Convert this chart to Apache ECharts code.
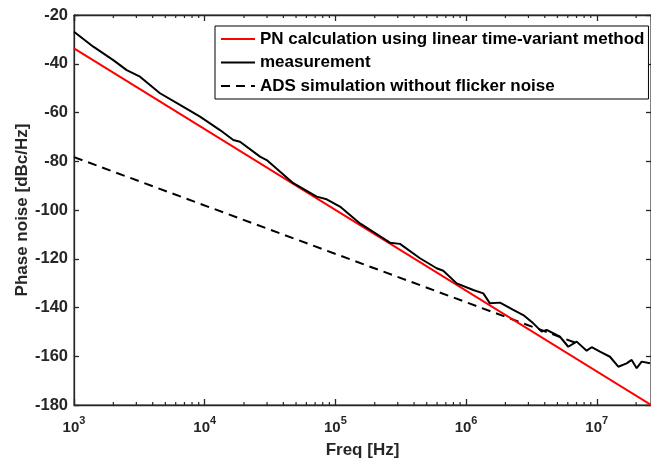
<!DOCTYPE html>
<html>
<head>
<meta charset="utf-8">
<script src="https://cdn.jsdelivr.net/npm/echarts@6/dist/echarts.min.js"></script>
<style>html,body{margin:0;padding:0;background:#fff;}#c{width:651px;height:466px;}</style>
</head>
<body>
<div id="c"></div>
<script>
// ---- data ----
const yTicks = [-180, -160, -140, -120, -100, -80, -60, -40, -20];
const xMajorTicks = [1e3, 1e4, 1e5, 1e6, 1e7];
const xMinorTicks = [2e3,3e3,4e3,5e3,6e3,7e3,8e3,9e3,
  2e4,3e4,4e4,5e4,6e4,7e4,8e4,9e4,
  2e5,3e5,4e5,5e5,6e5,7e5,8e5,9e5,
  2e6,3e6,4e6,5e6,6e6,7e6,8e6,9e6,
  2e7];
const pnCalcFreq = [1e3, 2.6e7];
const pnCalcVal = [-33.7, -180];
const adsFreq = [1e3, 7e6];
const adsVal = [-78.3, -154.6];
const measFreq = [1000,1405,1998,2531,3199,4550,6471,9205,13095,16553,18630,26500,29820,47640,71930,85800,
  108400,154300,232500,261600,312100,443900,595700,669100,847800,1.135e6,1.354e6,1.523e6,1.817e6,2.297e6,
  2.739e6,3.268e6,3.788e6,4.137e6,5.229e6,6.053e6,7.018e6,8.370e6,9.142e6,1.058e7,1.262e7,1.461e7,1.693e7,
  1.849e7,2.020e7,2.206e7,2.553e7];
const measVal = [-26.9,-33.0,-38.5,-42.6,-45.3,-52.1,-56.9,-61.7,-67.2,-71.3,-72.0,-78.1,-79.5,-89.0,-94.5,-95.6,
  -98.6,-105.5,-111.6,-113.4,-113.9,-119.8,-123.9,-124.9,-130.1,-132.8,-134.2,-138.3,-138.0,-141.0,
  -143.1,-146.5,-149.9,-149.2,-152.0,-156.1,-154.0,-157.7,-156.3,-158.1,-160.2,-164.3,-162.9,
  -161.5,-164.9,-162.2,-162.9];
const names = ['PN calculation using linear time-variant method', 'measurement', 'ADS simulation without flicker noise'];
const xMin = 1e3, xMax = 2.6e7, yMin = -180, yMax = -20;

const zip = (a, b) => a.map((v, i) => [v, b[i]]);
const FONT = "'Liberation Sans', Arial, sans-serif";
const AX = '#262626';
const isMajor = v => xMajorTicks.some(m => Math.abs(v - m) / m < 1e-6);

const chart = echarts.init(document.getElementById('c'), null, {renderer: 'canvas'});
chart.setOption({
  animation: false,
  backgroundColor: '#fff',
  textStyle: {fontFamily: FONT},
  grid: {left: 74, right: 0, top: 15, bottom: 61, containLabel: false, outerBoundsMode: 'none',
    show: true, borderColor: AX, borderWidth: 1, backgroundColor: 'transparent'},
  legend: {
    data: names,
    orient: 'vertical',
    left: 215, top: 26,
    padding: [3, 4, 3, 5],
    itemWidth: 34, itemHeight: 14, itemGap: 3.5,
    backgroundColor: '#fff',
    borderColor: '#000', borderWidth: 1,
    itemStyle: {opacity: 0},
    textStyle: {fontFamily: FONT, fontSize: 17, fontWeight: 'bold', color: '#000', lineHeight: 20},
    selectedMode: false
  },
  xAxis: [{
    type: 'log', logBase: 10, min: xMin, max: xMax, position: 'bottom',
    name: 'Freq [Hz]', nameLocation: 'middle', nameGap: 37, nameMoveOverlap: false,
    nameTextStyle: {fontFamily: FONT, fontSize: 17, fontWeight: 'bold', color: AX},
    axisLine: {lineStyle: {color: AX, width: 1.3}},
    axisTick: {inside: true, length: 6, lineStyle: {color: AX, width: 1.3}},
    minorTick: {show: false},
    splitLine: {show: false},
    axisLabel: {
      margin: 8, showMaxLabel: false,
      formatter: v => isMajor(v) ? '{b|10}{s|' + Math.round(Math.log10(v)) + '}' : '',
      rich: {
        b: {fontFamily: FONT, fontSize: 15, fontWeight: 'bold', color: AX, lineHeight: 22, verticalAlign: 'bottom'},
        s: {fontFamily: FONT, fontSize: 11, fontWeight: 'bold', color: AX, lineHeight: 22, padding: [0, 0, 9, 0], verticalAlign: 'bottom'}
      }
    }
  }, {
    type: 'log', logBase: 10, min: xMin, max: xMax, position: 'top',
    axisLine: {lineStyle: {color: AX, width: 1.3}},
    axisTick: {inside: true, length: 6, lineStyle: {color: AX, width: 1.3}},
    axisLabel: {show: false}, splitLine: {show: false}
  }],
  yAxis: [{
    type: 'value', min: yMin, max: yMax, interval: 20, position: 'left',
    name: 'Phase noise [dBc/Hz]', nameLocation: 'middle', nameGap: 43, nameMoveOverlap: false,
    nameTextStyle: {fontFamily: FONT, fontSize: 17, fontWeight: 'bold', color: AX},
    axisLine: {show: true, lineStyle: {color: AX, width: 1.3}},
    axisTick: {show: true, inside: true, length: 5, lineStyle: {color: AX, width: 1.3}},
    splitLine: {show: false},
    axisLabel: {fontFamily: FONT, fontSize: 16.5, fontWeight: 'bold', color: AX, margin: 6,
      formatter: v => yTicks.includes(v) ? String(v) : ''}
  }, {
    type: 'value', min: yMin, max: yMax, interval: 20, position: 'right',
    axisLine: {show: true, lineStyle: {color: AX, width: 1.3}},
    axisTick: {show: true, inside: true, length: 5, lineStyle: {color: AX, width: 1.3}},
    axisLabel: {show: false}, splitLine: {show: false}
  }],
  series: [{
    name: names[0], type: 'line', data: zip(pnCalcFreq, pnCalcVal), showSymbol: false, symbol: 'none',
    lineStyle: {color: '#ff0000', width: 2}, itemStyle: {color: '#ff0000'}, z: 3
  }, {
    name: names[1], type: 'line', data: zip(measFreq, measVal), showSymbol: false, symbol: 'none',
    lineStyle: {color: '#000', width: 2}, itemStyle: {color: '#000'}, z: 4
  }, {
    name: names[2], type: 'line', data: zip(adsFreq, adsVal), showSymbol: false, symbol: 'none',
    lineStyle: {color: '#000', width: 2, type: [9, 6]}, itemStyle: {color: '#000'}, z: 2
  }, {
    name: 'minorTicks', type: 'custom', silent: true, clip: false, z: 5,
    data: xMinorTicks.map(v => [v, yMin]),
    renderItem: (params, api) => {
      const v = api.value(0);
      const b = api.coord([v, yMin]);
      const t = api.coord([v, yMax]);
      const st = {stroke: AX, lineWidth: 1.2};
      return {type: 'group', children: [
        {type: 'line', shape: {x1: b[0], y1: b[1], x2: b[0], y2: b[1] - 3}, style: st},
        {type: 'line', shape: {x1: t[0], y1: t[1], x2: t[0], y2: t[1] + 3}, style: st}
      ]};
    }
  }]
});
</script>
</body>
</html>
